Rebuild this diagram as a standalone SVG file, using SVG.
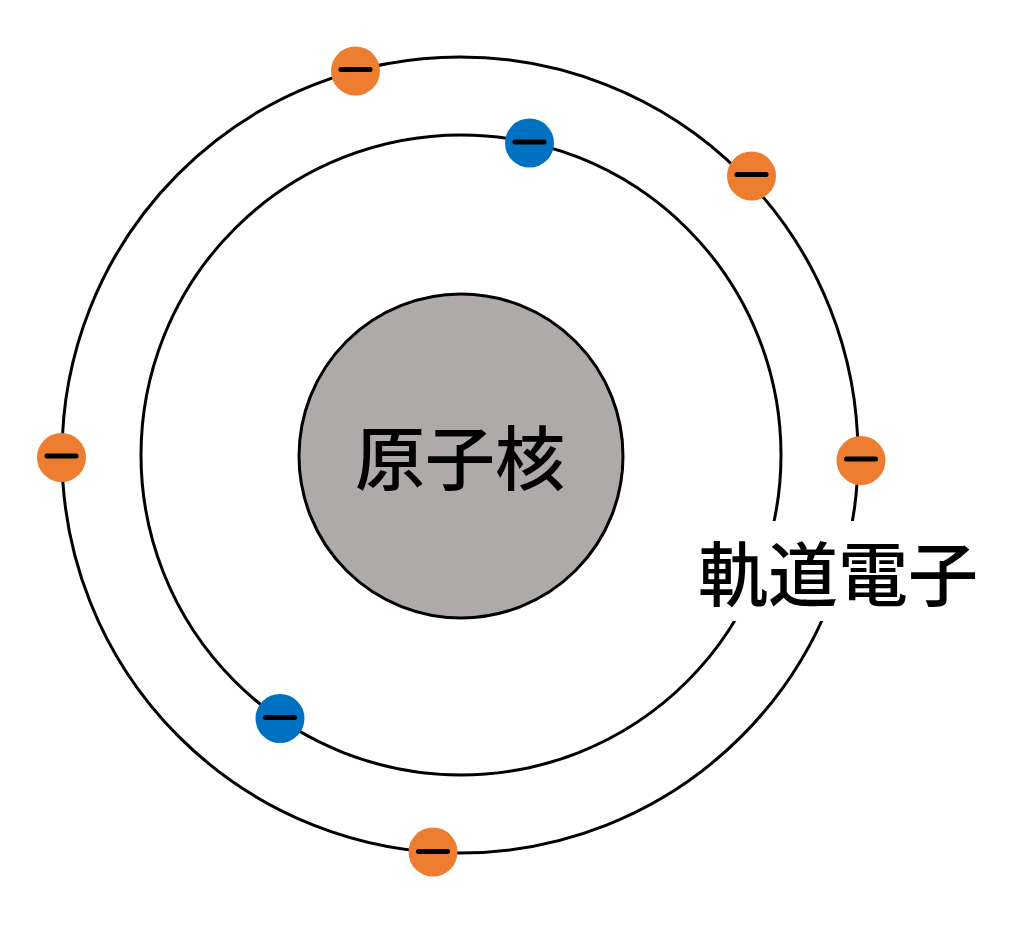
<svg xmlns="http://www.w3.org/2000/svg" width="1024" height="933" viewBox="0 0 1024 933">
<style>
.orbit{fill:none;stroke:#000;stroke-width:3}
.e{stroke:none}
.orange{fill:#ED7D31}
.blue{fill:#0070C0}
.minus{stroke:#000;stroke-width:5;stroke-linecap:round}
.lbl{font-family:"Noto Sans CJK JP","Noto Sans CJK SC",sans-serif;font-size:70px;font-weight:500;fill:#000;text-anchor:middle}
</style>
<rect width="1024" height="933" fill="#fff"/>
<g id="connectors">
<circle class="orbit" cx="461" cy="455" r="320"/>
<circle class="orbit" cx="460" cy="455" r="398"/>
</g>
<g id="label-bg"><rect x="690" y="521" width="300" height="100" fill="#fff"/></g>
<g id="nucleus">
<circle cx="461" cy="456" r="162" fill="#ADAAA9" stroke="#000" stroke-width="3"/>
<text class="lbl" x="460" y="485">原子核</text>
</g>
<g id="orbital-label"><text class="lbl" x="838" y="601">軌道電子</text></g>
<g id="e1"><circle class="e orange" cx="355.5" cy="71" r="24.5"/><line class="minus" x1="341" y1="69.5" x2="370" y2="69.5"/></g>
<g id="e2"><circle class="e blue" cx="529.5" cy="143" r="24.5"/><line class="minus" x1="515" y1="142" x2="544" y2="142"/></g>
<g id="e3"><circle class="e orange" cx="751.5" cy="176" r="24.5"/><line class="minus" x1="737" y1="174.5" x2="766" y2="174.5"/></g>
<g id="e4"><circle class="e orange" cx="61.5" cy="457.5" r="24.5"/><line class="minus" x1="47" y1="456" x2="76" y2="456"/></g>
<g id="e5"><circle class="e orange" cx="861" cy="460.5" r="24.5"/><line class="minus" x1="846.5" y1="459" x2="875.5" y2="459"/></g>
<g id="e6"><circle class="e blue" cx="280" cy="718.5" r="24.5"/><line class="minus" x1="265.5" y1="717.5" x2="294.5" y2="717.5"/></g>
<g id="e7"><circle class="e orange" cx="433" cy="852" r="24.5"/><line class="minus" x1="418.5" y1="851.5" x2="447.5" y2="851.5"/></g>
</svg>
